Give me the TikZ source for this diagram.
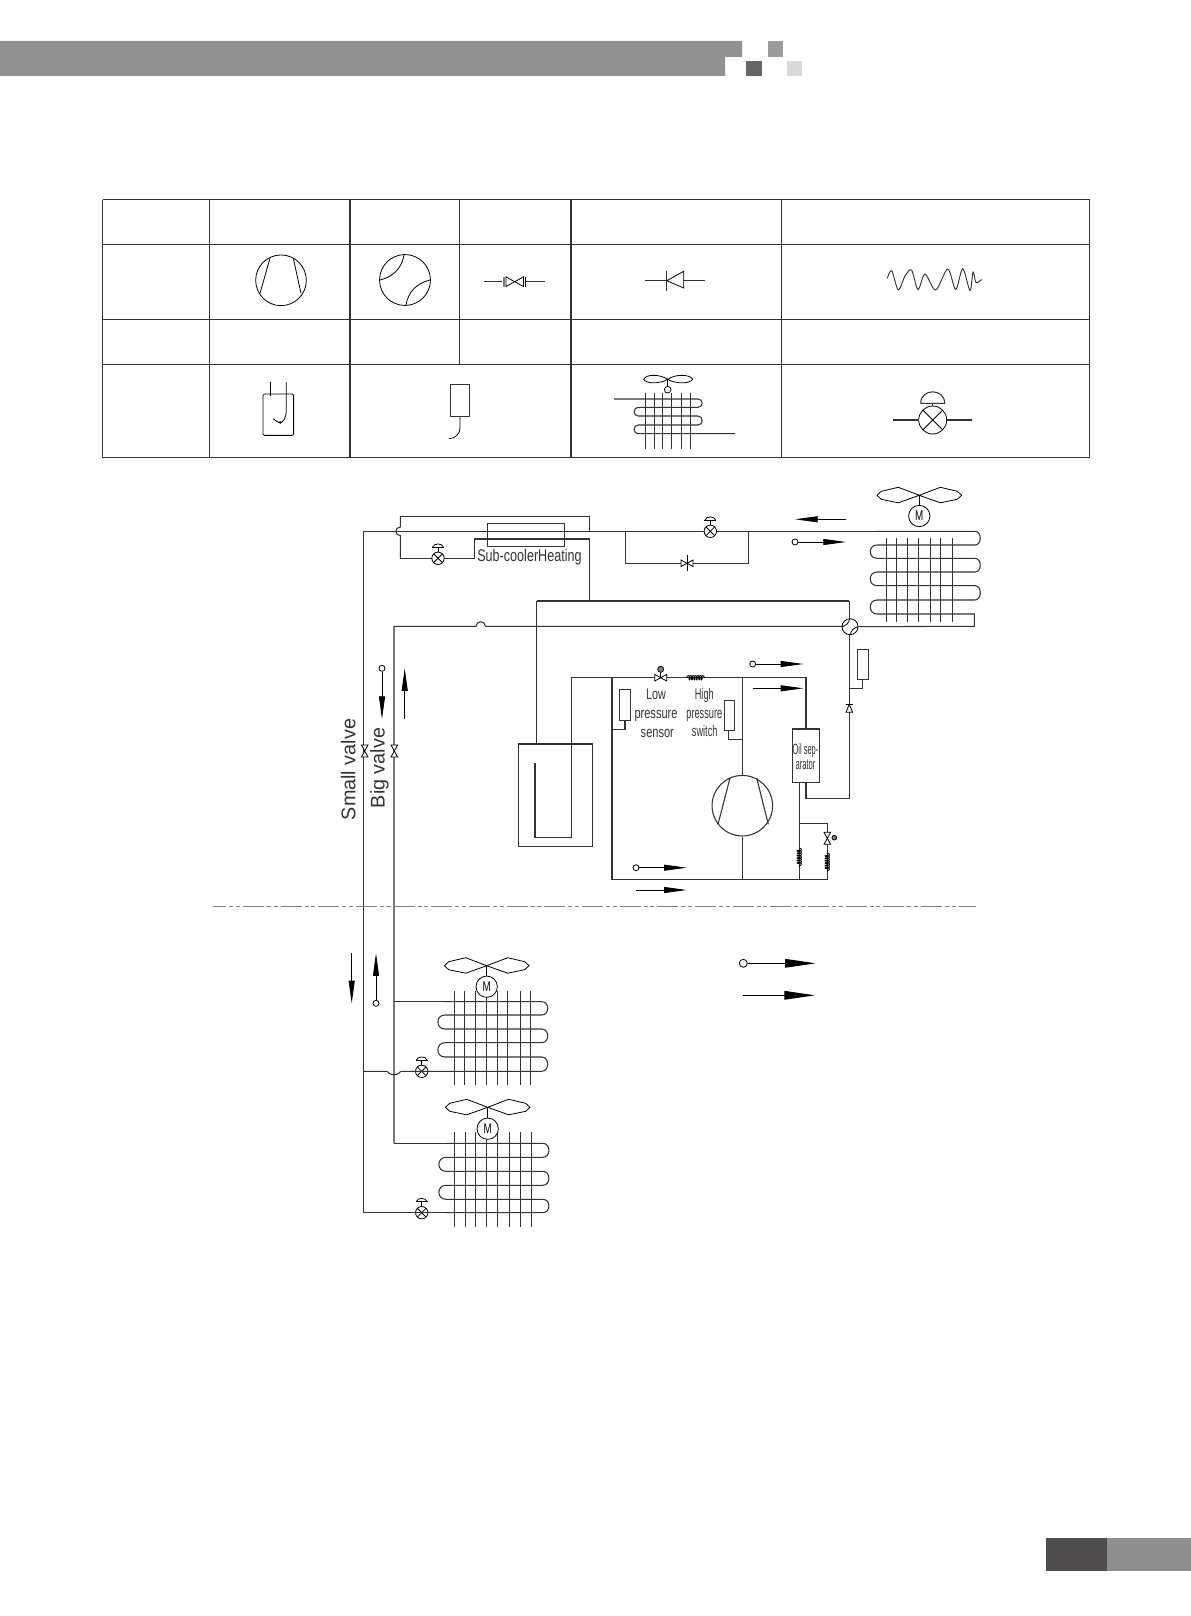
\documentclass[tikz,border=0pt]{standalone}
\usepackage{fontspec}
\setmainfont{Liberation Sans}
\usepackage{xcolor}
\usetikzlibrary{arrows.meta}
\usetikzlibrary{decorations.pathmorphing}

\tikzset{
  thin/.style={line width=0.6pt},
  bowtie/.pic={\draw[thin,fill=white] (-6,-3.3) -- (6,3.3) -- (6,-3.3) -- (-6,3.3) -- cycle;},
  expv/.pic={
    \draw[thin] (0,-6) -- (0,-11);
    \draw[thin] (-6,-11) -- (6,-11);
    \draw[thin] (-5.5,-11) .. controls (-4,-15.5) and (4,-15.5) .. (5.5,-11);
    \draw[thin,fill=white] (0,0) circle [radius=6.2];
    \draw[thin] (-4.4,-4.4) -- (4.4,4.4) (-4.4,4.4) -- (4.4,-4.4);},
  blades/.pic={
    \draw[thin] (0,0) -- (-21,-8) -- (-38,-4) -- (-42.3,0) -- (-38,4) -- (-21,7.5) -- cycle;
    \draw[thin] (0,0) -- (21,-8) -- (38,-4) -- (42.3,0) -- (38,4) -- (21,7.5) -- cycle;},
  wayarcs/.pic={
    \draw[thin] (-1,-25) .. controls (-3,-12) and (-12,-3) .. (-25,0);
    \draw[thin] (1,25) .. controls (3,12) and (12,3) .. (25,0);}
}

\begin{document}
\begin{tikzpicture}[x=0.75pt,y=-0.75pt]

  % Define Colors
  \definecolor{bandgray}{HTML}{919191}
  \definecolor{squaremid}{HTML}{9B9B9B}
  \definecolor{squaredark}{HTML}{666666}
  \definecolor{squarelight}{HTML}{D9D9D9}
  \definecolor{footdark}{HTML}{4F4D4D}
  \definecolor{footlight}{HTML}{8F8E8E}
  \definecolor{linegray}{HTML}{333333}

  % Node styles
  \tikzstyle{pipe}=[line width=0.8pt, linegray]
  \tikzstyle{tabl}=[line width=0.8pt, linegray]
  \tikzstyle{fin}=[line width=0.75pt, linegray]
  \tikzstyle{thinpipe}=[line width=0.6pt, linegray]
  \tikzstyle{flow}=[line width=0.6pt, black, -{Triangle[length=17pt,width=4.5pt]}]
  \tikzstyle{flowbig}=[line width=0.7pt, black, -{Triangle[length=23pt,width=6.5pt]}]
  \tikzstyle{ring}=[circle, draw, thin, inner sep=0pt, minimum size=4.5pt]
  \tikzstyle{ringbig}=[circle, draw, thin, inner sep=0pt, minimum size=6pt]
  \tikzstyle{sens}=[rectangle, draw=linegray, line width=0.7pt, fill=white, minimum width=8.1pt, minimum height=22.8pt, inner sep=0pt]
  \tikzstyle{motor}=[circle, draw, thin, fill=white, inner sep=0pt, minimum size=16pt, font=\fontsize{10.5}{10.5}\selectfont]
  \tikzstyle{way}=[circle, draw, thin, fill=white, inner sep=0pt, minimum size=12pt]
  \tikzstyle{capil}=[line width=0.7pt, decorate, decoration={coil, amplitude=1.6pt, segment length=1.8pt}]
  \tikzstyle{lab}=[inner sep=0pt, anchor=base, font=\fontsize{11.5}{11.5}\selectfont, text=linegray]
  \tikzstyle{oil}=[inner sep=0pt, anchor=base, font=\fontsize{11.2}{11.2}\selectfont, text=linegray]
  \tikzstyle{vlab}=[inner sep=0pt, rotate=90, font=\fontsize{14.85}{14.85}\selectfont, text=linegray]

  \useasboundingbox (0,0) rectangle (1191,1616);

  % Page band and corner
  \fill[bandgray] (0,41) -- (742,41) -- (742,57) -- (725,57) -- (725,76) -- (0,76) -- cycle;
  \fill[squaremid] (767.5,41) rectangle (783,57);
  \fill[squaredark] (746,61) rectangle (761.5,76);
  \fill[squarelight] (786.5,61) rectangle (802,76);
  \fill[footdark] (1046,1538) rectangle (1107,1570.7);
  \fill[footlight] (1107,1538) rectangle (1191,1570.7);

  % Table
  \foreach \y in {199.5,244.3,319.3,364.3,457.7} \draw[tabl] (102.5,\y) -- (1089.5,\y);
  \foreach \x in {102.5,209.3,350,571,781.5,1089.5} \draw[tabl] (\x,199.5) -- (\x,457.7);
  \draw[tabl] (459.5,199.5) -- (459.5,364.3);

  % Table symbols
  \node[circle, draw, thin, inner sep=0pt, minimum size=38pt] (t_comp) at (281,280.3) {};
  \draw[thin] (270,258.3) -- (260,293.3);
  \draw[thin] (293.3,258.3) -- (301,293.3);

  \node[circle, draw, thin, inner sep=0pt, minimum size=38.2pt] (t_way) at (405,280) {};
  \pic at (t_way.center) {wayarcs};

  \coordinate (t_stop_l) at (484,281.7);
  \coordinate (t_stop_r) at (545,281.7);
  \draw[thinpipe] (t_stop_l) -- (502.3,281.7);
  \draw[thinpipe] (525.7,281.7) -- (t_stop_r);
  \draw[line width=1.4pt, gray] (504,277) -- (504,287);
  \draw[thin] (525.7,277) -- (525.7,287);
  \pic[scale=1.45] at (514.7,281.7) {bowtie};

  \coordinate (t_chk_l) at (645,280.7);
  \coordinate (t_chk_r) at (705.3,280.7);
  \draw[thinpipe] (t_chk_l) -- (t_chk_r);
  \draw[thinpipe] (666.7,270.7) -- (666.7,290.7);
  \draw[thin, fill=white] (666.7,280.7) -- (683.7,271.3) -- (683.7,288) -- cycle;

  \draw[line width=0.7pt, linegray] plot[smooth, tension=0.5] coordinates {(887.3,278.3) (891.7,270.7) (898.3,290) (905,276) (911.5,270) (918,289.5) (925,274) (935.7,290) (947.7,269) (955.7,289.5) (962.7,268.7) (970,290.5) (973,272) (976,282.5) (981.7,279.5)};

  \node[rectangle, draw, thin, rounded corners=1pt, inner sep=0pt, minimum width=23pt, minimum height=31pt] (t_acc) at (278.3,414.7) {};
  \draw[thin] (270.3,382) -- (270.3,395.7);
  \draw[thin] (286.3,382) -- (286.3,410) .. controls (286.3,418) and (283,422.7) .. (280,422.7) .. controls (278,422.7) and (275,420) .. (273,418.7);
  \node[circle, draw, very thin, inner sep=0pt, minimum size=2pt] (t_acc_dot) at (280.3,422.3) {};

  \node[sens, minimum width=14.6pt, minimum height=24.3pt] (t_sens) at (460,400.5) {};
  \coordinate (t_sens_e) at (449,438.7);
  \draw[thin] (t_sens.south) -- (460,428) .. controls (460,434) and (455,438.7) .. (t_sens_e);

  % Table coil
  \coordinate (t_hub) at (667.7,379.3);
  \draw[thin] (t_hub) .. controls (660,374) and (646,374) .. (643.7,379.3) .. controls (646,384) and (660,384) .. (t_hub);
  \draw[thin] (t_hub) .. controls (675,374) and (690,374) .. (692.7,379.3) .. controls (690,384) and (675,384) .. (t_hub);
  \node[circle, draw, thin, inner sep=0pt, minimum size=5pt] (t_fanm) at (667.7,389.7) {};
  \draw[thin] (t_hub) -- (t_fanm);
  \draw[pipe] (614,399) -- (698,399) .. controls (703.5,399) and (703.5,407.3) .. (698,407.3) -- (638,407.3) .. controls (633,407.3) and (633,416) .. (638,416) -- (698,416) .. controls (703.5,416) and (703.5,425) .. (698,425) -- (638,425) .. controls (633,425) and (633,433.7) .. (638,433.7) -- (735,433.7);
  \foreach \x in {645.7,654.3,662.7,671.7,681.7,690.3} \draw[fin] (\x,392.7) -- (\x,448.7);

  % Table expansion valve
  \node[circle, draw, thin, fill=white, inner sep=0pt, minimum size=21pt] (t_exp) at (932.7,420) {};
  \coordinate (t_exp_l) at (892.7,420);
  \coordinate (t_exp_r) at (972,420);
  \draw[pipe] (t_exp_l) -- (t_exp);
  \draw[pipe] (t_exp) -- (t_exp_r);
  \draw[thin] (922.8,410.1) -- (942.6,429.9) (922.8,429.9) -- (942.6,410.1);
  \draw[pipe] (t_exp.north) -- (932.7,403.3);
  \draw[pipe] (920.7,403.3) -- (944.7,403.3) .. controls (944.7,388) and (920.7,388) .. (920.7,403.3);

  % Pipe points
  \coordinate (s_top) at (363.7,531.3);
  \coordinate (s_bot) at (363.7,1212.7);
  \coordinate (bus_e) at (975,531.3);
  \coordinate (b_top) at (394,626.3);
  \coordinate (b_bot) at (394,1143.3);
  \coordinate (sub_tl) at (400.3,516.3);
  \coordinate (sub_tr) at (589.3,516.3);
  \coordinate (sub_j) at (589.3,531.3);
  \coordinate (sub_bl) at (400.3,558.3);
  \coordinate (sub_il) at (474.3,539);
  \coordinate (sub_ir) at (589.3,539);
  \coordinate (sub_ib) at (474.3,558.3);
  \coordinate (acc_j) at (589.3,601);
  \coordinate (acc_tl) at (536.7,601);
  \coordinate (acc_tr) at (849.3,601);
  \coordinate (byp_l) at (625.7,531.3);
  \coordinate (byp_lb) at (625.7,563.3);
  \coordinate (byp_rb) at (748.3,563.3);
  \coordinate (byp_r) at (748.3,531.3);
  \coordinate (u_a) at (535,763.3);
  \coordinate (u_b) at (535,837.3);
  \coordinate (u_c) at (571.7,837.3);
  \coordinate (u_d) at (571.7,677.7);
  \coordinate (hp_l) at (612,677.7);
  \coordinate (hp_m) at (742.3,677.7);
  \coordinate (hp_r) at (806,677.7);
  \coordinate (lp_b) at (612,879.3);
  \coordinate (lp_m) at (742.3,879.3);
  \coordinate (lp_o) at (799.3,879.3);
  \coordinate (lp_r) at (827.3,879.3);
  \coordinate (oil_b) at (799.3,823.7);
  \coordinate (oil_br) at (827.3,823.7);
  \coordinate (ret_a) at (806,798.3);
  \coordinate (ret_b) at (849.3,798.3);

  % Boxes
  \node[rectangle, draw=linegray, line width=0.7pt, inner sep=0pt, minimum width=57.2pt, minimum height=17pt] (subcool) at (525.9,535) {};
  \node[rectangle, draw=linegray, line width=0.8pt, inner sep=0pt, minimum width=55.8pt, minimum height=77pt] (accu) at (555.5,795.3) {};
  \node[circle, draw=linegray, line width=0.8pt, fill=white, inner sep=0pt, minimum size=45.4pt] (comp) at (742.3,805.7) {};
  \node[rectangle, draw=linegray, line width=0.8pt, fill=white, inner sep=0pt, minimum width=20.5pt, minimum height=39.8pt] (oilsep) at (806,755.5) {};

  % Big and small valve lines
  \draw[pipe] (sub_j) -- (s_top) -- (s_bot);
  \draw[pipe] (sub_j) -- (bus_e);
  \draw[pipe] (sub_tr) -- (sub_j);
  \draw[pipe] (sub_tl) -- (sub_tr);
  \draw[pipe] (sub_tl) -- (400.3,527) .. controls (394.5,527) and (394.5,535.6) .. (400.3,535.6) -- (sub_bl);
  \draw[pipe] (sub_bl) -- (sub_ib) -- (sub_il) -- (sub_ir) -- (acc_j);
  \draw[pipe] (acc_tl) -- (acc_tr);
  \draw[pipe] (acc_tl) -- (accu.north -| acc_tl);
  \draw[pipe] (byp_l) -- (byp_lb) -- (byp_rb) -- (byp_r);
  \draw[pipe] (b_bot) -- (b_top) -- (476,626.3) .. controls (476,620.3) and (485.4,620.3) .. (485.4,626.3) -- (850,626.3);

  % Compressor loop
  \draw[pipe] (u_a) -- (u_b) -- (u_c) -- (u_d) -- (hp_l) -- (hp_r) -- (oilsep.north -| hp_r);
  \draw[pipe] (hp_l) -- (lp_b) -- (lp_r) -- (oil_br) -- (oil_b);
  \draw[pipe] (hp_m) -- (comp);
  \draw[pipe] (comp) -- (lp_m);
  \draw[pipe] (oilsep.south -| lp_o) -- (lp_o);
  \draw[pipe] (oilsep.south -| ret_a) -- (ret_a) -- (ret_b) -- (acc_tr);
  \draw[pipe] (730,778) -- (718,824.3);
  \draw[pipe] (756.7,778) -- (768.3,824.3);

  % Sensors
  \node[sens] (lp_sens) at (625,704.9) {};
  \node[sens] (hp_sens) at (729.5,715.5) {};
  \node[sens] (out_sens) at (862.8,664.2) {};
  \draw[pipe] (lp_sens.south) |- (612,729.3);
  \draw[pipe] (728.7,730.7) |- (742.3,739.3);
  \draw[pipe] (out_sens.south) |- (849.3,688.3);

  % Valves
  \pic at (438,558.3) {expv};
  \pic at (710.3,531.3) {expv};
  \pic at (421.7,1071.3) {expv};
  \pic at (421.7,1212.7) {expv};
  \pic at (687,563.3) {bowtie};
  \draw[thin] (687,555) -- (687,571);
  \pic[rotate=90] at (364.7,751) {bowtie};
  \pic[rotate=90] at (394.3,751) {bowtie};
  \coordinate (lv_ball) at (660.7,669.3);
  \draw[thin] (lv_ball) -- (660.7,677.7);
  \pic at (660.7,677.7) {bowtie};
  \node[circle, draw, thin, fill=gray, inner sep=0pt, minimum size=4.5pt] (lv_b) at (lv_ball) {};
  \pic[rotate=90] at (827.3,838.3) {bowtie};
  \node[circle, draw, thin, fill=gray, inner sep=0pt, minimum size=3.5pt] (hv_b) at (834.3,837.7) {};
  \draw[thin, fill=white] (849.3,704.3) -- (846,712.3) -- (852.6,712.3) -- cycle;
  \draw[thin] (845.5,704.3) -- (853,704.3);

  % Capillaries
  \draw[capil] (686.7,677.7) -- (705,677.7);
  \draw[capil] (799.3,848) -- (799.3,866.7);
  \draw[capil] (827.3,853) -- (827.3,871.7);

  % Four way valve
  \node[way] (fw) at (850,626.7) {};
  \pic[scale=0.32] at (fw.center) {wayarcs};

  % Outdoor coil
  \foreach \ya/\yb in {531.3/545,558.3/572,585.7/600}
    \draw[pipe] (877,\ya) -- (975,\ya) .. controls (982,\ya) and (982,\yb) .. (975,\yb) -- (877,\yb);
  \foreach \ya/\yb in {545/558.3,572/585.7,600/614}
    \draw[pipe] (877,\ya) .. controls (868,\ya) and (868,\yb) .. (877,\yb);
  \coordinate (oc_a) at (877,614);
  \coordinate (oc_b) at (974.3,614);
  \coordinate (oc_c) at (974.3,626.3);
  \draw[pipe] (oc_a) -- (oc_b) -- (oc_c) -- (fw);
  \foreach \x in {886,896.7,907.3,918,930,940.3,952.7} \draw[fin] (\x,538.3) -- (\x,621.7);
  \coordinate (hub_o) at (919.3,495.3);
  \pic at (hub_o) {blades};
  \node[motor] (mot_o) at (919.3,516) {\scalebox{0.7}[1]{M}};
  \draw[thin] (hub_o) -- (mot_o);

  % Indoor coil A
  \foreach \ya/\yb in {1001.7/1015,1029/1042.7,1057/1071.3}
    \draw[pipe] (445,\ya) -- (541.7,\ya) .. controls (549.7,\ya) and (549.7,\yb) .. (541.7,\yb) -- (445,\yb);
  \foreach \ya/\yb in {1015/1029,1042.7/1057}
    \draw[pipe] (445,\ya) .. controls (435.5,\ya) and (435.5,\yb) .. (445,\yb);
  \coordinate (ca_in) at (445,1001.7);
  \coordinate (ca_out) at (445,1071.3);
  \coordinate (ca_s) at (363.7,1071.3);
  \draw[pipe] (394,1001.7) -- (ca_in);
  \draw[pipe] (ca_s) -- (387,1071.3) .. controls (390,1076) and (398,1076) .. (401,1071.3) -- (ca_out);
  \foreach \x in {454.7,464,475.7,486.7,497.3,507.7,520,530.7} \draw[fin] (\x,991) -- (\x,1085);
  \coordinate (hub_a) at (486.7,965.7);
  \pic at (hub_a) {blades};
  \node[motor] (mot_a) at (486.7,986.7) {\scalebox{0.7}[1]{M}};
  \draw[thin] (hub_a) -- (mot_a);

  % Indoor coil B
  \foreach \ya/\yb in {1143.3/1157.3,1171.3/1185.3,1199.3/1212.7}
    \draw[pipe] (446,\ya) -- (542.7,\ya) .. controls (551,\ya) and (551,\yb) .. (542.7,\yb) -- (446,\yb);
  \foreach \ya/\yb in {1157.3/1171.3,1185.3/1199.3}
    \draw[pipe] (446,\ya) .. controls (436.5,\ya) and (436.5,\yb) .. (446,\yb);
  \coordinate (cb_in) at (446,1143.3);
  \coordinate (cb_out) at (446,1212.7);
  \draw[pipe] (b_bot) -- (cb_in);
  \draw[pipe] (s_bot) -- (cb_out);
  \foreach \x in {454.7,465.3,475.7,486.7,497.3,509.3,520,531.7} \draw[fin] (\x,1132.3) -- (\x,1226.7);
  \coordinate (hub_b) at (487.7,1107.3);
  \pic at (hub_b) {blades};
  \node[motor] (mot_b) at (487.7,1128.7) {\scalebox{0.7}[1]{M}};
  \draw[thin] (hub_b) -- (mot_b);

  % Flow arrows
  \coordinate (fa_a) at (846,519.3);
  \coordinate (fa_b) at (795,519.3);
  \draw[flow] (fa_a) -- (fa_b);
  \node[ring] (r_out) at (795,542) {};
  \coordinate (r_out_e) at (846,542);
  \draw[flow] (r_out) -- (r_out_e);
  \node[ring] (r_hi) at (752.7,664) {};
  \coordinate (r_hi_e) at (803.3,664);
  \draw[flow] (r_hi) -- (r_hi_e);
  \coordinate (fb_a) at (753.3,688.3);
  \coordinate (fb_b) at (803.3,688.3);
  \draw[flow] (fb_a) -- (fb_b);
  \node[ring] (r_lo) at (636,867.7) {};
  \coordinate (r_lo_e) at (686.7,867.7);
  \draw[flow] (r_lo) -- (r_lo_e);
  \coordinate (fc_a) at (636,890);
  \coordinate (fc_b) at (686.7,890);
  \draw[flow] (fc_a) -- (fc_b);
  \node[ring] (r_dn) at (382,668.3) {};
  \coordinate (r_dn_e) at (382,719);
  \draw[flow] (r_dn) -- (r_dn_e);
  \coordinate (fd_a) at (404.7,719);
  \coordinate (fd_b) at (404.7,668.3);
  \draw[flow] (fd_a) -- (fd_b);
  \coordinate (fe_a) at (351.7,953.3);
  \coordinate (fe_b) at (351.7,1003.3);
  \draw[flow] (fe_a) -- (fe_b);
  \node[ring] (r_up) at (376,1003.3) {};
  \coordinate (r_up_e) at (376,953.3);
  \draw[flow] (r_up) -- (r_up_e);

  % Legend
  \node[ringbig] (r_leg) at (743.3,963.3) {};
  \coordinate (r_leg_e) at (815.7,963.3);
  \draw[flowbig] (r_leg) -- (r_leg_e);
  \coordinate (leg_a) at (743.3,995.3);
  \coordinate (leg_b) at (815,995.3);
  \draw[flowbig] (leg_a) -- (leg_b);

  % Boundary
  \coordinate (div_l) at (213.3,906.3);
  \coordinate (div_r) at (976,906.3);
  \draw[line width=0.8pt, gray, dash pattern=on 15.75pt off 2.25pt on 3pt off 2pt on 3pt off 2.25pt, dash phase=6pt] (div_l) -- (div_r);

  % Labels
  \node[inner sep=0pt, anchor=base, xscale=0.75, font=\fontsize{12.6}{12.6}\selectfont, text=linegray] (t_sub) at (529.5,561.7) {Sub-coolerHeating};
  \node[vlab] (t_small) at (348.3,769.5) {Small valve};
  \node[vlab] (t_big) at (379.5,768) {Big valve};
  \node[lab, xscale=0.7] (t_low) at (656,699.3) {Low};
  \node[lab, xscale=0.72] (t_lp1) at (656,718.3) {pressure};
  \node[lab, xscale=0.72] (t_lp2) at (657.3,737.3) {sensor};
  \node[lab, xscale=0.6] (t_high) at (704.3,699.3) {High};
  \node[lab, xscale=0.6] (t_hp1) at (704.3,718) {pressure};
  \node[lab, xscale=0.6] (t_hp2) at (704.7,736.7) {switch};
  \node[oil, xscale=0.5] (t_oil1) at (805.5,754) {Oil sep-};
  \node[oil, xscale=0.51] (t_oil2) at (805.5,769) {arator};

\end{tikzpicture}
\end{document}
